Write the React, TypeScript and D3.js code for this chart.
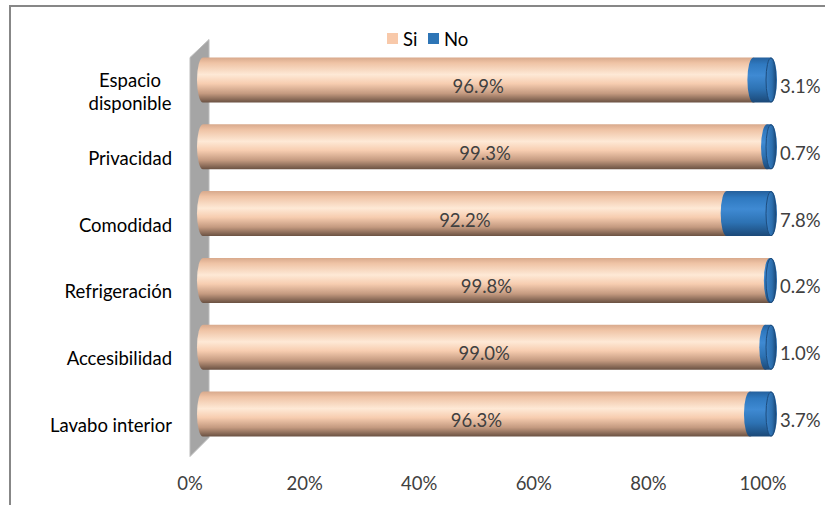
import * as d3 from "d3";

const categories = [
  "Espacio disponible",
  "Privacidad",
  "Comodidad",
  "Refrigeración",
  "Accesibilidad",
  "Lavabo interior",
];
const siValues = [96.9, 99.3, 92.2, 99.8, 99.0, 96.3];
const noValues = [3.1, 0.7, 7.8, 0.2, 1.0, 3.7];
const xTicks = [0, 20, 40, 60, 80, 100];
const seriesNames = ["Si", "No"];

const FONT = "Lato, Calibri, 'Open Sans', sans-serif";
const FS = 18.5;
const TEXT = "#404040";

export default function App() {
  const width = 825;
  const height = 505;
  const barHeight = 45;
  const rx = 6;

  // bars float forward of the floor, so they get their own scale
  const x = d3.scaleLinear().domain([0, 100]).range([203, 771]);
  const xAxis = d3.scaleLinear().domain([0, 100]).range([190, 763]);
  const y = d3.scalePoint<string>().domain(categories).range([80, 414]);

  const cylinder = (a: number, b: number, cy: number) => {
    const top = cy - barHeight / 2;
    const bottom = cy + barHeight / 2;
    const ry = barHeight / 2;
    return `M${a},${top} L${b},${top} A${rx},${ry} 0 0 1 ${b},${bottom} L${a},${bottom} A${rx},${ry} 0 0 1 ${a},${top} Z`;
  };

  const rows = categories.map((c, i) => ({
    label: c,
    si: siValues[i],
    no: noValues[i],
    cy: y(c) ?? 0,
  }));

  const wallTop = (y(categories[0]) ?? 0) - barHeight / 2;
  const wallBottom = (y(categories[categories.length - 1]) ?? 0) + barHeight / 2;
  const wx = xAxis(0);

  return (
    <svg
      width={width}
      height={height}
      style={{ position: "absolute", left: 0, top: 0, display: "block" }}
    >
      <defs>
        <linearGradient id="peach" x1="0" y1="0" x2="0" y2="1">
          <stop offset="0" stopColor="#d8a98c" />
          <stop offset="0.12" stopColor="#efc3a5" />
          <stop offset="0.38" stopColor="#fee9d6" />
          <stop offset="0.58" stopColor="#f7cdb0" />
          <stop offset="0.8" stopColor="#c49a80" />
          <stop offset="1" stopColor="#6a5142" />
        </linearGradient>
        <linearGradient id="blue" x1="0" y1="0" x2="0" y2="1">
          <stop offset="0" stopColor="#25609c" />
          <stop offset="0.15" stopColor="#2f79c0" />
          <stop offset="0.4" stopColor="#3f8ad3" />
          <stop offset="0.7" stopColor="#2d72b3" />
          <stop offset="1" stopColor="#1b4877" />
        </linearGradient>
        <linearGradient id="blueCap" x1="0" y1="0" x2="1" y2="0">
          <stop offset="0" stopColor="#3b82c8" />
          <stop offset="0.6" stopColor="#2c6fae" />
          <stop offset="1" stopColor="#1c4a7a" />
        </linearGradient>
      </defs>

      <rect x={10} y={6} width={900} height={600} fill="#fff" stroke="#878787" strokeWidth={2} />

      {/* side wall */}
      <polygon
        points={`${wx},${wallTop} ${wx + 19},${wallTop - 18} ${wx + 19},${wallBottom + 1} ${wx},${wallBottom + 20}`}
        fill="#a5a5a5"
        stroke="#bdbdbd"
        strokeWidth={1}
      />

      {rows.map((r) => (
        <g key={r.label}>
          <path d={cylinder(x(0), x(r.si), r.cy)} fill="url(#peach)" />
          <path d={cylinder(x(r.si), x(r.si + r.no), r.cy)} fill="url(#blue)" />
          <ellipse
            cx={x(r.si + r.no)}
            cy={r.cy}
            rx={rx - 1}
            ry={barHeight / 2 - 0.5}
            fill="url(#blueCap)"
            stroke="#1d4c7d"
            strokeWidth={1}
          />
          <text
            x={(x(0) + x(r.si)) / 2}
            y={r.cy + 6}
            textAnchor="middle"
            dominantBaseline="central"
            fontFamily={FONT}
            fontSize={FS}
            fill={TEXT}
          >
            {r.si.toFixed(1)}%
          </text>
          <text
            x={x(r.si + r.no) + 9}
            y={r.cy + 6}
            dominantBaseline="central"
            fontFamily={FONT}
            fontSize={FS}
            fill={TEXT}
          >
            {r.no.toFixed(1)}%
          </text>
        </g>
      ))}

      {rows.map((r) => {
        const words = r.label === "Espacio disponible" ? ["Espacio", "disponible"] : [r.label];
        const multi = words.length > 1;
        return (
          <text
            key={`lab-${r.label}`}
            textAnchor={multi ? "middle" : "end"}
            fontFamily={FONT}
            fontSize={FS}
            fill="#000"
            dominantBaseline="central"
          >
            {words.map((w, k) => (
              <tspan key={w} x={multi ? 130 : 172} y={r.cy + 11 + (k - (words.length - 1) / 2) * 23}>
                {w}
              </tspan>
            ))}
          </text>
        );
      })}

      {xTicks.map((t) => (
        <text
          key={t}
          x={xAxis(t)}
          y={483}
          textAnchor="middle"
          dominantBaseline="central"
          fontFamily={FONT}
          fontSize={FS}
          fill={TEXT}
        >
          {t}%
        </text>
      ))}

      {/* legend */}
      <g fontFamily={FONT} fontSize={FS} fill="#000">
        {seriesNames.map((s, i) => {
          const lx = 387 + i * 41;
          return (
            <g key={s}>
              <rect x={lx} y={33} width={11} height={11} fill={i === 0 ? "#f8c9aa" : "#2e75b6"} />
              <text x={lx + 16} y={39} dominantBaseline="central">
                {s}
              </text>
            </g>
          );
        })}
      </g>
    </svg>
  );
}
